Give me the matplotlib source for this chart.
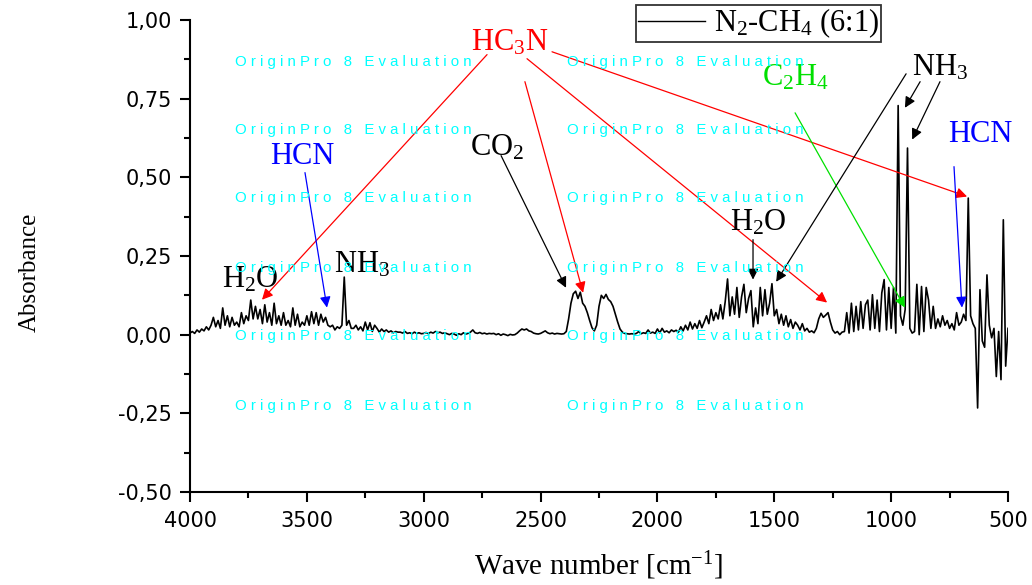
import numpy as np
import matplotlib
matplotlib.use("Agg")
import matplotlib.pyplot as plt
from matplotlib.ticker import MultipleLocator, FuncFormatter
from matplotlib.lines import Line2D

plt.rcParams['font.family'] = ['Liberation Serif', 'DejaVu Serif']
plt.rcParams['mathtext.fontset'] = 'custom'
plt.rcParams['mathtext.rm'] = 'Liberation Serif'
plt.rcParams['mathtext.it'] = 'Liberation Serif:italic'
plt.rcParams['mathtext.bf'] = 'Liberation Serif:bold'

# ---- data: wavenumber grid (cm^-1) and absorbance ----
wavenumber = np.arange(4000, 495, -10)
absorbance = [
    # 4000 - 3910
    0.005, 0.010, 0.004, 0.015, 0.008, 0.018, 0.012, 0.025, 0.015, 0.030,
    # 3900 - 3810
    0.055, 0.025, 0.045, 0.020, 0.085, 0.030, 0.060, 0.025, 0.055, 0.030,
    # 3800 - 3710
    0.040, 0.025, 0.070, 0.035, 0.060, 0.045, 0.110, 0.050, 0.090, 0.050,
    # 3700 - 3610
    0.080, 0.035, 0.095, 0.040, 0.070, 0.030, 0.100, 0.035, 0.060, 0.030,
    # 3600 - 3510
    0.070, 0.030, 0.045, 0.025, 0.085, 0.030, 0.065, 0.025, 0.040, 0.030,
    # 3500 - 3410
    0.060, 0.030, 0.073, 0.035, 0.070, 0.030, 0.065, 0.040, 0.055, 0.030,
    # 3400 - 3310
    0.025, 0.030, 0.015, 0.025, 0.020, 0.030, 0.183, 0.030, 0.045, 0.020,
    # 3300 - 3210
    0.020, 0.030, 0.015, 0.025, 0.012, 0.040, 0.015, 0.038, 0.010, 0.030,
    # 3200 - 3110
    0.020, 0.008, 0.018, 0.010, 0.015, 0.008, 0.012, 0.006, 0.010, 0.008,
    # 3100 - 3010
    0.008, 0.005, 0.010, 0.004, 0.006, 0.003, 0.008, 0.004, 0.006, 0.003,
    # 3000 - 2910
    0.004, 0.007, 0.003, 0.008, 0.005, 0.010, 0.006, 0.008, 0.004, 0.006,
    # 2900 - 2810
    0.003, 0.000, 0.004, 0.002, -0.002, 0.003, 0.000, 0.006, 0.002, 0.004,
    # 2800 - 2710
    0.008, 0.015, 0.006, 0.004, 0.007, 0.003, 0.005, 0.002, 0.004, 0.003,
    # 2700 - 2610
    0.004, 0.000, 0.003, -0.002, 0.002, 0.000, -0.003, 0.001, -0.001, 0.000,
    # 2600 - 2510
    0.005, 0.012, 0.018, 0.015, 0.018, 0.012, 0.010, 0.005, 0.003, 0.002,
    # 2500 - 2410
    0.004, 0.008, 0.012, 0.006, 0.003, 0.005, 0.002, 0.004, 0.003, 0.002,
    # 2400 - 2310
    0.003, 0.010, 0.050, 0.100, 0.130, 0.138, 0.115, 0.135, 0.100, 0.090,
    # 2300 - 2210
    0.070, 0.045, 0.022, 0.012, 0.030, 0.090, 0.125, 0.115, 0.128, 0.112,
    # 2200 - 2110
    0.105, 0.090, 0.065, 0.040, 0.018, 0.008, 0.004, 0.003, 0.002, 0.003,
    # 2100 - 2010
    0.002, 0.004, 0.010, 0.003, 0.006, 0.004, 0.015, 0.005, 0.008, 0.004,
    # 2000 - 1910
    0.018, 0.006, 0.020, 0.008, 0.012, 0.006, 0.015, 0.010, 0.014, 0.008,
    # 1900 - 1810
    0.025, 0.012, 0.030, 0.015, 0.040, 0.018, 0.035, 0.020, 0.045, 0.022,
    # 1800 - 1710
    0.040, 0.060, 0.035, 0.080, 0.045, 0.070, 0.050, 0.095, 0.050, 0.105,
    # 1700 - 1610
    0.177, 0.060, 0.120, 0.065, 0.150, 0.055, 0.120, 0.160, 0.070, 0.115,
    # 1600 - 1510
    0.140, 0.025, 0.085, 0.035, 0.150, 0.060, 0.143, 0.065, 0.100, 0.162,
    # 1500 - 1410
    0.060, 0.080, 0.035, 0.065, 0.030, 0.060, 0.025, 0.048, 0.020, 0.040,
    # 1400 - 1310
    0.030, 0.015, 0.035, 0.012, 0.020, 0.008, 0.012, 0.006, 0.020, 0.050,
    # 1300 - 1210
    0.068, 0.055, 0.062, 0.070, 0.040, 0.015, 0.005, 0.010, 0.000, 0.008,
    # 1200 - 1110
    0.010, 0.070, 0.005, 0.100, 0.010, 0.090, 0.015, 0.105, 0.020, 0.095,
    # 1100 - 1010
    0.110, 0.015, 0.127, 0.020, 0.110, 0.010, 0.133, 0.175, 0.015, 0.150,
    # 1000 - 910
    0.020, 0.150, 0.005, 0.728, 0.060, 0.030, 0.080, 0.593, 0.020, 0.005,
    # 900 - 810
    0.010, 0.160, 0.000, 0.153, 0.010, 0.150, 0.110, 0.020, 0.090, 0.020,
    # 800 - 710
    0.050, 0.025, 0.060, 0.030, 0.045, 0.020, 0.035, 0.015, 0.070, 0.030,
    # 700 - 610
    0.040, 0.065, 0.045, 0.434, 0.060, 0.035, 0.020, -0.233, 0.143, -0.020,
    # 600 - 510
    -0.040, 0.190, 0.030, -0.010, 0.020, -0.133, 0.010, -0.143, 0.365, -0.100,
    # 500
    0.020,
]

series_label = r'N$_2$-CH$_4$ (6:1)'
x_ticks = [4000, 3500, 3000, 2500, 2000, 1500, 1000, 500]
y_ticks = [-0.50, -0.25, 0.00, 0.25, 0.50, 0.75, 1.00]

# annotations: (text, color, text_xy, [(arrow_start, arrow_end), ...])
annotations = [
    (r'HC$_3$N', 'red', (2631, 0.927),
     [((2729, 0.890), (3692, 0.111)),
      ((2567, 0.804), (2318, 0.133)),
      ((2558, 0.877), (1274, 0.102)),
      ((2451, 0.899), (675, 0.439))]),
    ('HCN', 'blue', (3521, 0.565), [((3508, 0.515), (3414, 0.086))]),
    ('HCN', 'blue', (620, 0.635), [((731, 0.534), (697, 0.086))]),
    (r'C$_2$H$_4$', '#00e000', (1411, 0.816), [((1411, 0.705), (941, 0.086))]),
    (r'CO$_2$', 'black', (2686, 0.594), [((2669, 0.569), (2391, 0.149))]),
    (r'NH$_3$', 'black', (3264, 0.222), []),
    (r'H$_2$O', 'black', (3743, 0.174), []),
    (r'H$_2$O', 'black', (1570, 0.355), [((1591, 0.302), (1591, 0.175))]),
    (r'NH$_3$', 'black', (791, 0.848),
     [((936, 0.829), (1492, 0.168)),
      ((876, 0.804), (941, 0.721)),
      ((791, 0.804), (910, 0.620))]),
]

W, H = 1032, 585
fig = plt.figure(figsize=(W / 100, H / 100), dpi=100)
ax = fig.add_axes([190 / W, 1 - 492 / H, (1008 - 190) / W, (492 - 20) / H])

# watermark
wm = ' '.join('OriginPro') + '   8   ' + ' '.join('Evaluation')
for yp in [62, 130, 198, 268, 336, 406]:
    for xp in [235, 567]:
        fig.text(xp / W, 1 - yp / H, wm, color='#00ffff', fontsize=10.8,
                 family='Liberation Sans', ha='left', va='center', zorder=0)

ax.plot(wavenumber, absorbance, color='black', lw=1.2, label=series_label, zorder=3)

ax.set_xlim(4000, 500)
ax.set_ylim(-0.5, 1.0)
ax.set_xticks(x_ticks)
ax.set_yticks(y_ticks)
ax.xaxis.set_minor_locator(MultipleLocator(250))
ax.yaxis.set_minor_locator(MultipleLocator(0.125))
ax.yaxis.set_major_formatter(FuncFormatter(lambda v, p: f'{v:.2f}'.replace('.', ',')))
for lab in ax.get_xticklabels() + ax.get_yticklabels():
    lab.set_family('DejaVu Sans')
    lab.set_fontsize(15)
ax.tick_params(axis='y', which='major', direction='out', length=7, width=1.5, pad=6)
ax.tick_params(axis='x', which='major', direction='out', length=7, width=1.5, pad=7)
ax.tick_params(which='minor', direction='out', length=4, width=1.5)
ax.spines['top'].set_visible(False)
ax.spines['right'].set_visible(False)
ax.spines['left'].set_linewidth(1.5)
ax.spines['bottom'].set_linewidth(1.5)
ax.patch.set_alpha(0)

ax.set_ylabel('Absorbance', fontsize=18)
ax.yaxis.set_label_coords((30 - 190) / 818, (492 - 272) / 472)
ax.yaxis.label.set_va('center')
ax.set_xlabel(r'Wave number [cm$^{-1}$]', fontsize=21)
ax.xaxis.set_label_coords(0.499, (492 - 566) / 472)
ax.xaxis.label.set_va('center')

for text, color, txy, arrows in annotations:
    ax.text(txy[0], txy[1], text, color=color, fontsize=22, ha='center', va='center', zorder=5)
    for start, end in arrows:
        ax.annotate('', xy=end, xytext=start,
                    arrowprops=dict(arrowstyle='-|>', color=color, lw=0.9,
                                    mutation_scale=16, shrinkA=0, shrinkB=0),
                    zorder=4)

handle = Line2D([], [], color='black', lw=1.0)
leg = fig.legend([handle], [series_label], loc='upper left',
                 bbox_to_anchor=(636 / W, 1 - 5 / H), borderaxespad=0,
                 fontsize=22, handlelength=2.2, frameon=True, fancybox=False,
                 edgecolor='black', borderpad=0.05, handletextpad=0.3)
leg.get_frame().set_linewidth(1.3)

fig.savefig('out.png', dpi=100)
